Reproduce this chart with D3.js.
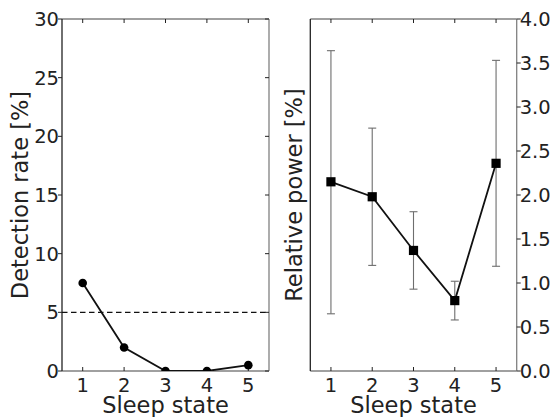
<!DOCTYPE html>
<html>
<head>
<meta charset="utf-8">
<script src="https://cdn.jsdelivr.net/npm/d3@7"></script>
<style>
  html, body { margin: 0; padding: 0; background: #fff; }
  svg { display: block; }
  text { font-family: "DejaVu Sans", sans-serif; fill: #222; }
</style>
</head>
<body>
<svg id="fig" width="556" height="417"></svg>
<script>
// Sleep states on the x axis
const states = [1, 2, 3, 4, 5];

// Left panel: detection rate per sleep state [%]
const detectionRate = [7.5, 2.0, 0.0, 0.0, 0.5];
const detectionThreshold = 5;
const leftTicks = [0, 5, 10, 15, 20, 25, 30];

// Right panel: relative power per sleep state [%] with error range
const relPower = [2.15, 1.98, 1.37, 0.80, 2.36];
const relPowerLow = [0.65, 1.20, 0.93, 0.58, 1.19];
const relPowerHigh = [3.64, 2.76, 1.81, 1.02, 3.53];
const rightTicks = [0.0, 0.5, 1.0, 1.5, 2.0, 2.5, 3.0, 3.5, 4.0];

const svg = d3.select("#fig");
const GRAY = "#808080";
const DARK = "#222";
const TICK = 4;
const TICK_FONT = 19.5;
const LABEL_FONT = 22.5;

const plotTop = 19, plotBottom = 371;

function panel(id, x0, x1, yDomain) {
  const g = svg.append("g");
  const x = d3.scaleLinear().domain([0.5, 5.5]).range([x0, x1]);
  const y = d3.scaleLinear().domain(yDomain).range([plotBottom, plotTop]);
  g.append("clipPath").attr("id", id)
    .append("rect").attr("x", x0).attr("y", plotTop).attr("width", x1 - x0).attr("height", plotBottom - plotTop);
  return { g, x, y, x0, x1 };
}

function frame(p) {
  const { g, x0, x1 } = p;
  const spine = (xa, ya, xb, yb, c) => g.append("line")
    .attr("x1", xa).attr("y1", ya).attr("x2", xb).attr("y2", yb)
    .attr("stroke", c).attr("stroke-width", 1.3);
  spine(x0, plotTop, x1, plotTop, GRAY);
  spine(x0, plotBottom, x1, plotBottom, GRAY);
  spine(x0, plotTop, x0, plotBottom, DARK);
  spine(x1, plotTop, x1, plotBottom, GRAY);
  // x ticks on top and bottom pointing inward
  states.forEach(s => {
    const xv = p.x(s);
    g.append("line").attr("x1", xv).attr("x2", xv).attr("y1", plotTop).attr("y2", plotTop + TICK)
      .attr("stroke", DARK).attr("stroke-width", 1);
    g.append("line").attr("x1", xv).attr("x2", xv).attr("y1", plotBottom).attr("y2", plotBottom - TICK)
      .attr("stroke", DARK).attr("stroke-width", 1);
    g.append("text").attr("x", xv).attr("y", 391.5).attr("text-anchor", "middle")
      .attr("font-size", TICK_FONT).text(s);
  });
  g.append("text").attr("x", (x0 + x1) / 2).attr("y", 413).attr("text-anchor", "middle")
    .attr("font-size", LABEL_FONT).text("Sleep state");
}

// ---------- Left panel ----------
const L = panel("clipL", 62, 269, [0, 30]);
frame(L);
leftTicks.forEach(t => {
  const yv = L.y(t);
  L.g.append("line").attr("x1", L.x0 - TICK).attr("x2", L.x0).attr("y1", yv).attr("y2", yv)
    .attr("stroke", DARK).attr("stroke-width", 1);
  L.g.append("line").attr("x1", L.x1 - TICK).attr("x2", L.x1).attr("y1", yv).attr("y2", yv)
    .attr("stroke", DARK).attr("stroke-width", 1);
  L.g.append("text").attr("x", L.x0 - 3).attr("y", yv).attr("dy", "0.36em")
    .attr("text-anchor", "end").attr("font-size", TICK_FONT).text(t);
});
L.g.append("text")
  .attr("transform", `translate(27.5,${(plotTop + plotBottom) / 2}) rotate(-90)`)
  .attr("text-anchor", "middle").attr("font-size", LABEL_FONT).text("Detection rate [%]");

L.g.append("line")
  .attr("x1", L.x0).attr("x2", L.x1)
  .attr("y1", L.y(detectionThreshold)).attr("y2", L.y(detectionThreshold))
  .attr("stroke", "#111").attr("stroke-width", 1.4).attr("stroke-dasharray", "5.5,3.5");

const leftData = states.map((s, i) => ({ s, v: detectionRate[i] }));
const plotL = L.g.append("g").attr("clip-path", "url(#clipL)");
plotL.append("path").datum(leftData)
  .attr("d", d3.line().x(d => L.x(d.s)).y(d => L.y(d.v)))
  .attr("fill", "none").attr("stroke", "#111").attr("stroke-width", 1.8);
plotL.selectAll("circle").data(leftData).join("circle")
  .attr("cx", d => L.x(d.s)).attr("cy", d => L.y(d.v)).attr("r", 4.3)
  .attr("fill", "#000");

// ---------- Right panel ----------
const R = panel("clipR", 310.3, 516.7, [0, 4]);
frame(R);
rightTicks.forEach(t => {
  const yv = R.y(t);
  R.g.append("line").attr("x1", R.x1).attr("x2", R.x1 + TICK).attr("y1", yv).attr("y2", yv)
    .attr("stroke", DARK).attr("stroke-width", 1);
  R.g.append("text").attr("x", R.x1 + 3).attr("y", yv).attr("dy", "0.36em")
    .attr("text-anchor", "start").attr("font-size", TICK_FONT).text(t.toFixed(1));
});
R.g.append("text")
  .attr("transform", `translate(302,${(plotTop + plotBottom) / 2}) rotate(-90)`)
  .attr("text-anchor", "middle").attr("font-size", LABEL_FONT).text("Relative power [%]");

const rightData = states.map((s, i) => ({ s, v: relPower[i], lo: relPowerLow[i], hi: relPowerHigh[i] }));
const plotR = R.g.append("g");
const eb = plotR.selectAll("g.eb").data(rightData).join("g").attr("class", "eb");
eb.append("line").attr("x1", d => R.x(d.s)).attr("x2", d => R.x(d.s))
  .attr("y1", d => R.y(d.lo)).attr("y2", d => R.y(d.hi))
  .attr("stroke", "#6e6e6e").attr("stroke-width", 1.1);
["lo", "hi"].forEach(k => {
  eb.append("line").attr("x1", d => R.x(d.s) - 4).attr("x2", d => R.x(d.s) + 4)
    .attr("y1", d => R.y(d[k])).attr("y2", d => R.y(d[k]))
    .attr("stroke", "#6e6e6e").attr("stroke-width", 1.1);
});
plotR.append("path").datum(rightData)
  .attr("d", d3.line().x(d => R.x(d.s)).y(d => R.y(d.v)))
  .attr("fill", "none").attr("stroke", "#111").attr("stroke-width", 1.8);
plotR.selectAll("rect.m").data(rightData).join("rect").attr("class", "m")
  .attr("x", d => R.x(d.s) - 4.6).attr("y", d => R.y(d.v) - 4.6)
  .attr("width", 9.2).attr("height", 9.2).attr("fill", "#000");
</script>
</body>
</html>
